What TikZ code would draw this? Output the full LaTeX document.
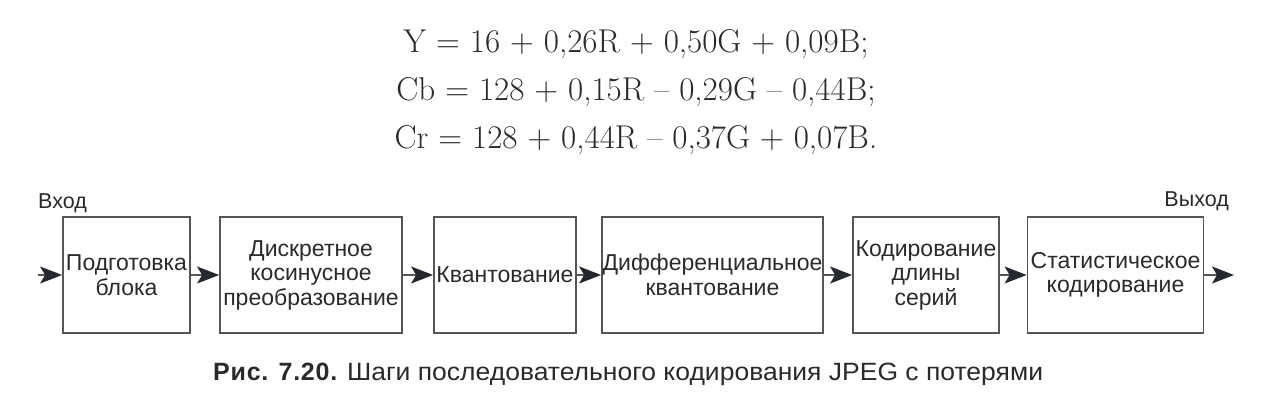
\documentclass[tikz,border=0pt]{standalone}
\usepackage{fontspec}
\usetikzlibrary{arrows.meta}
\newfontfamily\arialf{Liberation Sans}
\newfontfamily\capf[FakeStretch=1.06]{Liberation Sans}
\newfontfamily\capbf[LetterSpace=3]{Liberation Sans Bold}
\definecolor{boxc}{HTML}{555555}
\definecolor{tipc}{HTML}{26282F}
\definecolor{txtc}{HTML}{2A2A2A}
\begin{document}
\begin{tikzpicture}[x=1pt,y=-1pt,
  blk/.style={draw=boxc,line width=1.8pt,rectangle,inner sep=0pt,align=center,
    minimum height=116pt,font=\arialf\fontsize{23}{24.5}\selectfont,text=txtc},
  arr/.style={draw=boxc,line width=1.5pt,-{Stealth[length=22pt,width=17pt,inset=5pt,fill=tipc,color=tipc]}},
  lbl/.style={font=\arialf\fontsize{21.5}{24}\selectfont,text=txtc,inner sep=0pt},
  eq/.style={font=\fontsize{33}{40}\selectfont,text=txtc,inner sep=0pt,anchor=base}]
\useasboundingbox (0,0) rectangle (1280,415);
\node[eq] (e1) at (636,52) {Y = 16 + 0,26R + 0,50G + 0,09B;};
\node[eq] (e2) at (636,100) {Cb = 128 + 0,15R – 0,29G – 0,44B;};
\node[eq] (e3) at (636,148) {Cr = 128 + 0,44R – 0,37G + 0,07B.};
\node[blk,minimum width=127pt] (b1) at (126.5,275) {Подготовка\\блока};
\node[blk,minimum width=182pt] (b2) at (311,275) {Дискретное\\косинусное\\преобразование};
\node[blk,minimum width=142pt] (b3) at (505,275) {Квантование};
\node[blk,minimum width=221pt] (b4) at (712.5,275) {Дифференциальное\\квантование};
\node[blk,minimum width=146pt] (b5) at (926,275) {Кодирование\\длины\\серий};
\node[blk,minimum width=176pt] (b6) at (1115.5,275) {Статистическое\\кодирование};
\coordinate (in) at (38,275);
\coordinate (out) at (1234,275);
\node[lbl,anchor=base west] (lin) at (38,208) {Вход};
\node[lbl,anchor=base east] (lout) at (1229,206) {Выход};
\draw[arr] (in) -- (b1.west);
\draw[arr] (b1.east) -- (b2.west);
\draw[arr] (b2.east) -- (b3.west);
\draw[arr] (b3.east) -- (b4.west);
\draw[arr] (b4.east) -- (b5.west);
\draw[arr] (b5.east) -- (b6.west);
\draw[arr] (b6.east) -- (out);
\node[font=\capf\fontsize{25}{28}\selectfont,text=txtc,inner sep=0pt,anchor=base west] (cap) at (213,380) {{\capbf Рис. 7.20.} Шаги последовательного кодирования JPEG с потерями};
\end{tikzpicture}
\end{document}
